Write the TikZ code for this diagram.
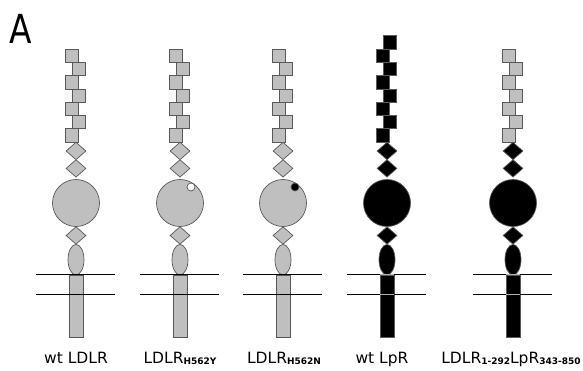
\documentclass[tikz,border=0pt]{standalone}
\usepackage{fontspec}
\setmainfont{DejaVu Sans}
\usetikzlibrary{shapes.geometric}

\colorlet{ldlgray}{black!25}
\colorlet{ldledge}{black!65}

\tikzset{
  part/.style={draw=ldledge, line width=.7pt, inner sep=0pt},
  lrep/.style={part, rectangle, minimum size=13.3pt},
  egf/.style={part, diamond, minimum width=20pt, minimum height=17.6pt},
  prop/.style={part, circle, minimum size=47pt},
  olink/.style={part, ellipse, minimum width=16pt, minimum height=30.5pt},
  tmd/.style={part, rectangle, minimum width=14pt, minimum height=62pt},
  hisdot/.style={part, circle, minimum size=8pt},
  membrane/.style={line width=1.1pt},
  darkcross/.style={black, line width=1.6pt},
  lightcross/.style={white!70!black, line width=.6pt},
  lbl/.style={anchor=base, inner sep=0pt, font=\fontsize{15.5}{18}\selectfont}
}

% bold subscript for mutations and residue ranges
\newcommand{\mut}[1]{\raisebox{-1pt}{\fontsize{9}{9}\selectfont\bfseries #1}}

% #1 name, #2 x centre, #3 LA repeats, #4 repeat fill, #5 body fill, #6 cross style
\newcommand{\receptor}[6]{%
  \foreach \i in {1,...,#3}{
    \pgfmathsetmacro\rx{#2+(mod(\i,2)==1 ? -4.5 : 2.5)}
    \pgfmathsetmacro\ry{135.5-(\i-1)*13.3}
    \node[lrep, fill=#4] (#1-la\i) at (\rx,\ry) {};
  }
  \node[egf, fill=#5] (#1-egfa) at (#2,151) {};
  \node[egf, fill=#5] (#1-egfb) at (#2,168.4) {};
  \node[prop, fill=#5] (#1-prop) at (#2,203) {};
  \node[egf, fill=#5] (#1-egfc) at (#2,235.5) {};
  \node[olink, fill=#5] (#1-olink) at (#2,259.7) {};
  \node[tmd, fill=#5] (#1-tm) at (#2,306) {};
  \draw[membrane] ([xshift=-33pt]#1-tm.north west) -- ([xshift=32pt]#1-tm.north east);
  \draw[membrane] ([xshift=-33pt,yshift=-20pt]#1-tm.north west) -- ([xshift=32pt,yshift=-20pt]#1-tm.north east);
  \draw[#6] (#1-tm.north west) -- (#1-tm.north east);
  \draw[#6] ([yshift=-20pt]#1-tm.north west) -- ([yshift=-20pt]#1-tm.north east);
}

\begin{document}
\begin{tikzpicture}[x=1pt, y=-1pt]
  \useasboundingbox (0,0) rectangle (583,371);

  \node[anchor=base west, inner sep=0pt, font=\fontsize{40}{40}\selectfont] (panel) at (9,44) {\scalebox{.82}[1]{A}};

  \receptor{wt}{76}{7}{ldlgray}{ldlgray}{darkcross}
  \receptor{hy}{180}{7}{ldlgray}{ldlgray}{darkcross}
  \receptor{hn}{283}{7}{ldlgray}{ldlgray}{darkcross}
  \receptor{lpr}{387}{8}{black}{black}{lightcross}
  \receptor{chim}{513}{7}{ldlgray}{black}{lightcross}

  % His562 substitutions
  \node[hisdot, fill=white] (hy-dot) at (191,187) {};
  \node[hisdot, fill=black] (hn-dot) at (295,187) {};

  \node[lbl] (wt-name) at (76,363) {wt LDLR};
  \node[lbl] (hy-name) at (180,363) {LDLR\mut{H562Y}};
  \node[lbl] (hn-name) at (284,363) {LDLR\mut{H562N}};
  \node[lbl] (lpr-name) at (382,363) {wt LpR};
  \node[lbl] (chim-name) at (511,363) {LDLR\mut{1-292}LpR\mut{343-850}};
\end{tikzpicture}
\end{document}
